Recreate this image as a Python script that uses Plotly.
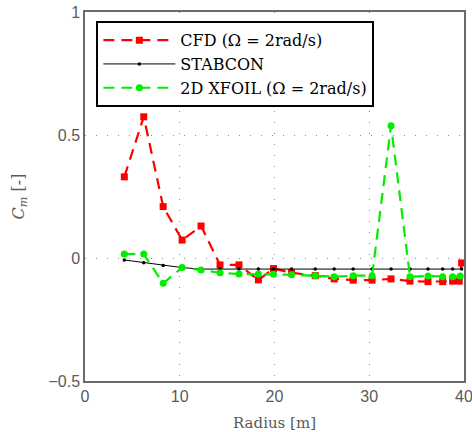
import plotly.graph_objects as go

# Radial stations [m] and pitching-moment coefficients
cfd_r = [4.15, 6.2, 8.25, 10.25, 12.25, 14.25, 16.25, 18.3, 19.9, 21.8, 24.3, 26.3,
         28.3, 30.3, 32.3, 34.3, 36.2, 37.75, 38.8, 39.5, 39.75]
cfd_cm = [0.33, 0.574, 0.209, 0.073, 0.13, -0.028, -0.028, -0.089, -0.043, -0.06, -0.072,
          -0.085, -0.09, -0.09, -0.085, -0.094, -0.096, -0.096, -0.094, -0.094, -0.02]

stab_r = [4.15, 6.2, 8.25, 10.25, 12.25, 14.25, 16.25, 18.3, 19.9, 21.8, 24.3, 26.3,
          28.3, 30.3, 32.3, 34.3, 36.2, 37.75, 38.8, 39.75]
stab_cm = [-0.008, -0.019, -0.03, -0.039, -0.045, -0.045, -0.045, -0.045, -0.045, -0.045,
           -0.045, -0.045, -0.045, -0.045, -0.045, -0.045, -0.045, -0.045, -0.045, -0.045]

xfoil_r = [4.15, 6.2, 8.25, 10.25, 12.25, 14.25, 16.25, 18.3, 19.9, 21.8, 24.3, 26.3,
           28.3, 30.3, 32.3, 34.3, 36.2, 37.75, 38.8, 39.6]
xfoil_cm = [0.016, 0.016, -0.103, -0.039, -0.049, -0.06, -0.065, -0.065, -0.066, -0.068,
            -0.072, -0.076, -0.072, -0.072, 0.538, -0.076, -0.073, -0.076, -0.076, -0.073]

x_ticks = [0, 10, 20, 30, 40]
y_ticks = [-0.5, 0, 0.5, 1]

serif = "DejaVu Serif"
sans = "Liberation Sans"
gray = "#5a5a5a"

fig = go.Figure()
fig.add_trace(go.Scatter(
    x=cfd_r, y=cfd_cm, mode="lines+markers", name="CFD (Ω = 2rad/s)",
    line=dict(color="#ff0000", width=2.2, dash="11px,7px"),
    marker=dict(symbol="square", size=7, color="#ff0000"),
))
fig.add_trace(go.Scatter(
    x=stab_r, y=stab_cm, mode="lines+markers", name="STABCON",
    line=dict(color="#000000", width=1),
    marker=dict(symbol="circle", size=3.5, color="#000000"),
))
fig.add_trace(go.Scatter(
    x=xfoil_r, y=xfoil_cm, mode="lines+markers", name="2D XFOIL (Ω = 2rad/s)",
    line=dict(color="#00ee00", width=2.2, dash="11px,7px"),
    marker=dict(symbol="circle", size=7, color="#00ee00"),
))

axis_common = dict(
    showline=True, linecolor="#6a6a6a", linewidth=1.5, mirror=True,
    showgrid=True, gridcolor="#8a8a8a", griddash="1px,10px", gridwidth=1,
    zeroline=False, ticks="", automargin=False, ticklabeloverflow="allow",
    tickfont=dict(family=sans, size=16, color=gray),
)

fig.update_layout(
    width=472, height=432,
    margin=dict(l=85, r=8, t=12, b=51),
    paper_bgcolor="white", plot_bgcolor="white",
    showlegend=True,
    legend=dict(
        x=0.03, y=0.975, xanchor="left", yanchor="top",
        bgcolor="white", bordercolor="black", borderwidth=2,
        font=dict(family=serif, size=16, color="black"),
        itemwidth=72, tracegroupgap=0,
    ),
    xaxis=dict(range=[0, 40], tickvals=x_ticks,
               title=dict(text="Radius [m]", font=dict(family=serif, size=15, color=gray),
                          standoff=16),
               **axis_common),
    yaxis=dict(range=[-0.5, 1], tickvals=y_ticks, ticktext=["−0.5", "0", "0.5", "1"],
               title=dict(text="<i>C<sub>m</sub></i> [-]",
                          font=dict(family=serif, size=16, color=gray), standoff=20),
               **axis_common),
)

fig.write_html("out.html")
